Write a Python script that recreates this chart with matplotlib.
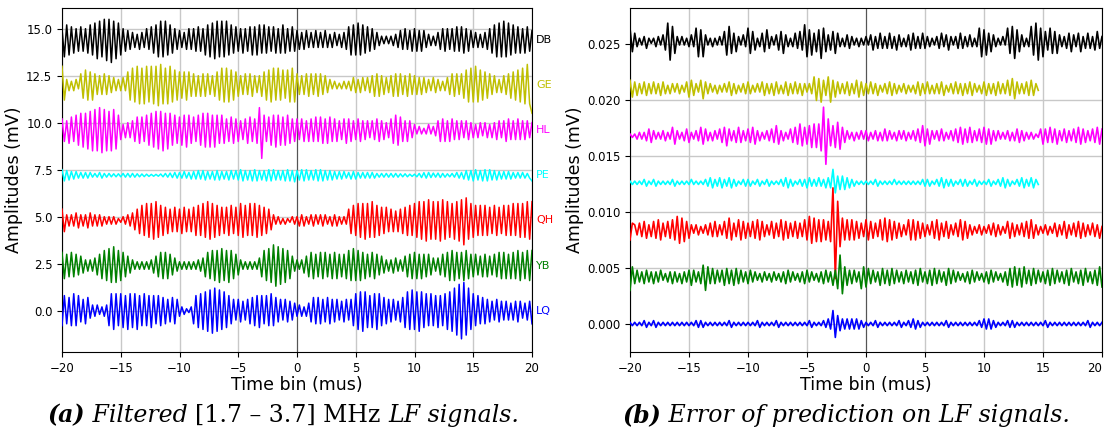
import numpy as np
import matplotlib
matplotlib.use("Agg")
import matplotlib.pyplot as plt

# ---------------- data ----------------
# sample spacing (mus); every series starts at -20 mus
T0 = -20.0
DT = 0.2

# Panel (a): deviations from baseline, in tenths of mV
left_names = ["DB", "GE", "HL", "PE", "QH", "YB", "LQ"]
left_offsets = [14.4, 12.0, 9.6, 7.2, 4.8, 2.4, 0.0]
left_colors = ["black", "#bfbf00", "magenta", "cyan", "red", "green", "blue"]

db_a = [6,-9,8,-8,7,-7,6,-6,7,-6, 6,-7,8,-8,9,-10,10,-9,11,-11, 11,-12,10,-10,9,-8,6,-6,5,-5,
        4,-4,3,-5,4,-4,6,-5,7,-7, 8,-9,10,-9,10,-8,8,-7,6,-5, 5,-4,4,-5,6,-5,6,-6,7,-6,
        6,-8,8,-9,9,-10,10,-9,10,-9, 10,-8,8,-7,7,-6,6,-7,6,-6, 7,-8,7,-8,8,-7,8,-7,7,-6,
        7,-7,6,-7,8,-7,6,-6,7,-6, 5,-5,4,-5,5,-4,4,-4,5,-4, 4,-4,5,-4,3,-4,4,-3,3,-4,
        4,-5,7,-8,8,-8,9,-8,8,-7, 7,-6,6,-5,4,-3,2,-2,2,-2, 2,-3,3,-4,5,-5,6,-5,5,-6,
        6,-6,5,-6,5,-4,3,-3,2,-3, 4,-5,6,-6,6,-5,6,-6,7,-6, 7,-7,6,-6,5,-4,4,-4,3,-4,
        4,-5,6,-7,8,-9,9,-9,10,-9, 9,-8,8,-7,7,-7,6,-7,7,-6, 5]
ge_a = [10,-8,3,-3,2,-3,3,-2,6,-7, 8,-8,7,-8,6,-5,5,-5,6,-5, 5,-4,4,-3,3,-3,4,-3,7,-8,
        9,-9,10,-10,9,-10,10,-9,10,-10, 10,-11,11,-10,9,-10,10,-9,8,-8, 7,-7,7,-8,7,-6,6,-6,5,-6,
        6,-6,6,-5,5,-6,7,-8,9,-9, 9,-9,8,-8,7,-6,5,-5,6,-5, 6,-6,5,-4,5,-6,7,-8,8,-9,
        9,-8,9,-8,8,-7,8,-9,9,-9, 6,-5,5,-5,6,-6,6,-5,6,-6, 6,-5,5,-4,3,-2,2,-2,1,-2,
        2,-2,2,-3,4,-4,3,-4,4,-3, 4,-4,5,-6,6,-6,5,-5,4,-4, 5,-6,6,-6,6,-5,5,-6,6,-5,
        5,-5,4,-5,4,-4,3,-3,4,-4, 3,-3,2,-3,4,-5,6,-6,6,-5, 6,-7,8,-9,9,-9,10,-9,8,-8,
        7,-7,6,-5,5,-4,3,-4,5,-5, 6,-7,7,-8,8,-9,9,-10,11,-10, -15]
hl_a = [6,-6,5,-7,7,-6,8,-8,9,-9, 9,-10,10,-11,11,-11,12,-12,11,-11, 10,-11,11,-10,8,-5,3,-4,4,-4,
        5,-6,7,-7,7,-6,8,-8,9,-9, 10,-10,10,-11,9,-10,9,-8,8,-7, 7,-8,8,-9,8,-7,7,-6,8,-8,
        9,-9,9,-9,8,-9,8,-7,8,-7, 6,-6,7,-7,6,-6,5,-5,6,-7, 7,-6,6,-7,12,-15,8,-6,7,-8,
        8,-9,8,-8,7,-8,8,-7,6,-6, 6,-5,6,-6,5,-6,6,-6,7,-6, 7,-7,6,-7,7,-6,6,-6,5,-5,
        6,-7,6,-6,5,-5,6,-6,5,-5, 5,-4,5,-5,6,-6,5,-5,4,-4, 6,-7,8,-8,7,-6,5,-6,5,-4,
        3,-2,2,-2,1,-2,3,-2,2,-3, 5,-6,6,-6,5,-6,6,-5,5,-5, 5,-4,5,-5,4,-4,3,-4,4,-3,
        4,-4,3,-4,4,-5,5,-4,5,-6, 6,-5,5,-5,6,-5,5,-5,5,-4, 4]
pe_a = [3,-3,2.5,-2.5,2,-2,2,-1.5,1.5,-1.5, 1.5,-1.5,1.5,-1,1,-1,1.5,-1.5,1,-1,
        1,-0.8,0.8,-0.8,0.8,-0.8,1,-1,1,-1, 1,-1,0.8,-0.8,0.7,-0.7,0.6,-0.6,0.5,-0.5,
        0.5,-0.5,0.7,-0.8,1,-1,1.2,-1.2,1.5,-1.5, 1.5,-1.5,2,-1.5,1.5,-2,2,-2,2.5,-2,
        2.5,-2.5,2,-2,2,-2.5,2.5,-2.5,2,-2, 2,-2.5,2.5,-2,2.5,-2.5,3,-3,2.5,-2.5,
        2.5,-3,3,-3,2.5,-2.5,2.5,-3,3,-3, 3,-2.5,2.5,-2.5,2.5,-3,3,-3,2.5,-3.5,
        2.5,-2.5,3,-3,3,-2.5,2.5,-2.5,3,-3, 3,-3,2.5,-2.5,2.5,-2.5,2,-2,2,-2,
        2,-1.5,1.5,-2,2,-2,1.5,-1.5,1.5,-1.5, 1.5,-1.5,1.5,-1.5,1,-1,1,-1,1,-1,
        1,-1,1,-1,0.8,-0.8,0.8,-0.8,0.6,-0.6, 0.6,-0.8,1,-1.2,1.4,-1.5,1.5,-1.2,1.2,-1,
        1.2,-1.2,1,-1,0.8,-0.8,1,-1,1.5,-1.5, 1.5,-2,2.5,-2.5,2.5,-3,3,-2.5,2.5,-3,
        3,-3,3,-2.5,2.5,-2.5,2,-2,2,-2, 2,-2,1.5,-1.5,1.5,-1.5,1.5,-1.5,1,-1.5, -3]
qh_a = [6,-6,3,-3,3,-3,4,-4,3,-3, 3,-4,4,-3,3,-3,3,-3,2,-2, 2,-2,2,-2,1,-1,2,-2,3,-3,
        4,-5,6,-7,8,-8,9,-9,9,-10, 10,-9,8,-8,7,-7,6,-6,7,-6, 6,-7,7,-6,6,-6,7,-8,8,-8,
        9,-9,10,-10,9,-9,8,-8,7,-7, 7,-8,8,-7,7,-8,9,-9,8,-8, 9,-8,9,-9,8,-8,7,-7,6,-5,
        3,-2,2,-2,1,-2,1,-1,2,-2, 2,-3,3,-3,2,-2,3,-3,3,-2, 3,-3,3,-2,2,-3,3,-3,2,-2,
        2,-2,6,-7,8,-8,9,-9,9,-10, 9,-9,10,-9,8,-8,7,-7,7,-6, 6,-6,5,-6,6,-7,7,-8,8,-8,
        9,-9,10,-10,10,-11,11,-10,10,-10, 10,-11,11,-10,10,-9,9,-10,10,-11, 11,-13,12,-10,9,-9,8,-8,8,-8,
        8,-8,7,-7,8,-8,7,-7,8,-8, 8,-8,9,-8,9,-9,9,-9,10,-10, 10]
yb_a = [7,-7,6,-6,7,-6,6,-5,5,-4, 3,-3,3,-3,4,-5,6,-7,8,-8, 9,-9,10,-9,8,-8,7,-6,5,-4,
        3,-2,2,-2,2,-2,2,-2,3,-4, 5,-6,7,-7,7,-7,6,-5,4,-3, 2,-2,2,-2,2,-2,2,-2,3,-3,
        4,-6,7,-7,8,-8,8,-9,9,-8, 8,-9,8,-7,6,-5,3,-2,2,-2, 2,-2,2,-2,4,-6,8,-8,9,-9,
        11,-11,10,-10,9,-9,8,-7,5,-3, 3,-2,3,-4,5,-6,7,-7,6,-6, 7,-7,7,-6,6,-7,7,-7,6,-6,
        6,-7,8,-8,9,-8,8,-8,7,-7, 6,-6,7,-7,6,-5,5,-4,3,-3, 3,-4,4,-3,3,-3,5,-6,6,-7,
        7,-7,6,-7,6,-6,6,-5,4,-3, 4,-5,6,-6,7,-8,8,-8,7,-7, 7,-8,8,-7,6,-6,6,-5,5,-6,
        6,-6,5,-5,6,-6,7,-7,7,-7, 6,-7,7,-7,8,-8,7,-7,8,-8, 8]
lq_a = [-8,8,-7,7,-8,9,-8,8,-6,6, -7,7,-4,3,-3,3,-2,2,-3,3, -8,9,-10,9,-8,9,-9,8,-10,9,
        -9,9,-10,8,-8,9,-8,8,-9,8, -7,8,-8,7,-7,6,-6,7,-7,6, -3,2,-2,1,-1,2,-7,8,-9,9,
        -10,10,-11,11,-12,12,-11,11,-10,10, -9,8,-7,6,-5,6,-6,5,-5,6, -7,7,-8,8,-9,8,-7,8,-8,9,
        -8,7,-6,6,-5,6,-6,5,-5,4, -3,3,-3,2,-3,4,-6,7,-7,7, -7,6,-6,7,-7,6,-6,6,-5,5,
        -6,6,-5,6,-8,9,-10,10,-11,10, -9,8,-9,9,-10,9,-8,7,-7,6, -6,6,-5,5,-6,7,-9,10,-10,11,
        -10,10,-11,10,-9,9,-8,9,-8,8, -9,8,-8,9,-10,10,-11,12,-13,14, -15,15,-13,12,-10,9,-8,8,-7,7,
        -7,6,-6,5,-5,6,-6,5,-5,5, -5,4,-5,5,-6,5,-4,4,-5,5, -7]
left_series = [db_a, ge_a, hl_a, pe_a, qh_a, yb_a, lq_a]

# Panel (b): deviations from baseline, in units of 1.5e-4 mV
RIGHT_UNIT = 1.5e-4
right_offsets = [0.0252, 0.0210, 0.0168, 0.0126, 0.0084, 0.0042, 0.0]

db_b = [8,-6,5,-3,2,-2,3,-4,2,-1, 2,-3,3,-2,4,-5,11,-11,9,-7, 3,-2,3,-2,2,-3,4,-3,8,-9,
        7,-9,4,-2,2,-3,2,-2,3,-2, 6,-8,9,-7,5,-6,3,-2,4,-3, 8,-7,6,-5,2,-3,5,-6,7,-4,
        3,-2,4,-5,6,-7,4,-3,2,-3, 5,-4,6,-5,10,-9,7,-8,5,-6, 7,-10,8,-6,4,-5,6,-7,5,-3,
        2,-3,4,-4,3,-2,2,-3,2,-2, 3,-2,4,-5,3,-4,5,-4,3,-4, 5,-4,3,-5,4,-3,2,-3,4,-5,
        5,-4,3,-4,5,-4,3,-3,2,-2, 3,-4,5,-3,4,-5,3,-2,3,-4, 5,-4,3,-3,4,-3,2,-3,8,-9,
        7,-8,5,-6,4,-3,2,-2,3,-2, 8,-7,9,-10,7,-6,4,-3,2,-3, 9,-8,11,-11,8,-9,6,-5,8,-7,
        6,-7,4,-3,3,-4,5,-6,4,-3, 5,-6,3,-4,5,-4,3,-5,6,-4, 3]
ge_b = [5,-5,4,-4,3,-3,4,-4,3,-3, 4,-3,3,-4,4,-3,2,-3,3,-2, 3,-3,2,-2,4,-5,5,-4,3,-2,
        5,-6,4,-3,3,-2,2,-3,2,-2, 3,-2,4,-4,3,-3,2,-2,3,-3, 4,-3,2,-2,3,-2,4,-4,3,-3,
        3,-4,4,-3,2,-3,4,-4,3,-3, 4,-3,3,-4,3,-2,3,-3,7,-7, 6,-8,5,-4,7,-8,5,-5,4,-3,
        3,-3,4,-4,3,-3,5,-5,4,-4, 3,-3,4,-3,3,-4,2,-2,3,-3, 4,-4,3,-3,2,-2,3,-3,2,-2,
        2,-3,4,-4,3,-3,4,-3,2,-3, 3,-3,4,-4,2,-2,3,-3,4,-3, 3,-4,3,-3,4,-4,3,-2,2,-3,
        4,-4,3,-3,3,-4,4,-3,3,-3, 5,-4,6,-6,4,-3,3,-3,4,-4, 5,-4,3,-1]
hl_b = [1,-1,1,-2,2,-2,2,-3,4,-4, 3,-2,2,-2,3,-3,2,-2,5,-5, 3,-2,2,-3,4,-4,2,-2,3,-3,
        5,-5,4,-3,2,-3,3,-2,4,-4, 5,-6,4,-3,3,-4,5,-4,3,-3, 4,-4,5,-5,3,-3,2,-2,3,-3,
        4,-4,6,-5,3,-3,2,-2,4,-4, 5,-5,7,-6,5,-5,6,-7,7,-7, 7,-9,17,-17,10,-6,6,-7,8,-8,
        5,-4,3,-2,2,-3,2,-2,3,-2, 3,-3,2,-2,3,-3,2,-3,4,-3, 3,-2,2,-3,3,-2,3,-3,2,-2,
        3,-3,4,-4,6,-6,4,-5,3,-2, 3,-3,4,-3,2,-2,3,-3,4,-4, 5,-5,4,-4,5,-4,3,-3,4,-4,
        5,-5,4,-5,3,-3,3,-2,2,-2, 3,-3,2,-3,4,-4,3,-3,2,-2, 2,-2,1,-1,4,-5,4,-4,5,-4,
        4,-5,3,-3,4,-4,3,-3,4,-4, 5,-5,4,-4,3,-3,4,-4,5,-5, 4]
pe_b = [1,-1,1,-1,1,-1,2,-2,1,-1, 2,-2,1,-1,1,-1,1,-1,2,-2, 1,-1,1,-1,1,-1,2,-1,1,-1,
        1,-1,2,-2,3,-3,2,-2,3,-3, 2,-2,3,-3,2,-2,1,-1,2,-2, 2,-2,1,-1,2,-2,1,-1,2,-2,
        1,-1,1,-1,2,-2,3,-3,2,-2, 1,-1,2,-2,2,-3,3,-2,2,-2, 3,-2,2,-3,3,-3,8,-6,4,-4,
        4,-4,3,-3,2,-2,1,-1,1,-1, 1,-1,1,-1,2,-2,1,-1,1,-1, 1,-1,2,-1,1,-1,1,-1,1,-1,
        1,-1,1,-1,2,-2,2,-2,1,-1, 2,-2,3,-3,2,-2,2,-2,1,-1, 2,-2,2,-2,1,-1,2,-2,1,-1,
        1,-1,2,-2,1,-1,2,-2,3,-3, 2,-2,1,-1,2,-2,3,-3,2,-2, 3,-3,2,-1]
qh_b = [-6,4,3,-3,4,-4,5,-5,3,-4, 5,-5,6,-6,4,-4,5,-5,6,-6, 8,-8,7,-7,5,-5,3,-2,3,-3,
        2,-2,3,-3,4,-4,5,-4,3,-3, 5,-5,7,-6,4,-4,6,-6,5,-5, 4,-4,5,-5,6,-6,5,-4,3,-3,
        5,-5,4,-4,6,-6,5,-5,4,-4, 5,-5,4,-4,6,-6,8,-8,7,-7, 6,-7,6,-6,5,-7,25,-29,17,-10,
        7,-6,6,-6,6,-6,5,-5,4,-4, 6,-6,5,-5,4,-4,6,-6,7,-7, 6,-6,5,-5,4,-4,3,-3,6,-6,
        6,-6,5,-5,4,-4,3,-3,5,-5, 6,-6,4,-4,5,-5,3,-3,4,-4, 6,-6,5,-5,3,-3,2,-2,3,-3,
        2,-2,3,-3,4,-4,3,-3,2,-2, 5,-5,4,-4,3,-3,4,-4,5,-5, 6,-5,3,-3,2,-2,3,-3,2,-2,
        4,-4,3,-3,5,-5,3,-3,4,-4, 5,-5,4,-4,3,-3,4,-4,3,-5, 2]
yb_b = [-8,6,-4,4,-3,3,-4,4,-3,3, -4,3,-3,4,-2,2,-3,3,-4,3, -3,2,-4,3,-3,4,-5,4,-3,3,
        -4,7,-8,6,-4,5,-4,4,-3,4, -5,5,-4,4,-5,5,-4,4,-3,3, -4,4,-3,3,-2,2,-3,3,-2,2,
        -3,3,-2,2,-3,3,-4,4,-3,3, -2,2,-3,3,-4,4,-3,3,-2,2, -3,3,-4,4,-3,3,-5,4,-7,13,
        -10,6,-5,4,-4,4,-3,3,-7,6, -6,5,-4,4,-3,3,-5,5,-4,4, -5,5,-4,4,-3,3,-4,4,-3,3,
        -4,4,-5,5,-3,3,-4,4,-5,5, -4,4,-3,3,-5,5,-4,4,-3,3, -2,2,-3,3,-4,4,-3,3,-2,2,
        -3,3,-4,4,-3,3,-2,2,-3,3, -5,5,-6,6,-5,5,-6,6,-4,4, -5,5,-4,4,-3,3,-4,4,-5,5,
        -4,4,-3,3,-4,4,-5,5,-3,3, -4,4,-5,5,-3,3,-4,4,-5,6, -6]
lq_b = [1,-1,1,-1,1,-1,2,-2,1,-1, 2,-2,1,-1,1,-1,1,-1,1,-1, 1,-1,1,-1,1,-1,1,-1,2,-2,
        2,-2,1,-1,1,-1,1,-1,1,-1, 1,-1,2,-2,1,-1,1,-1,1,-1, 1,-1,1,-1,2,-2,1,-1,1,-1,
        1,-1,2,-2,1,-1,1,-1,1,-1, 1,-1,1,-1,1,-1,2,-2,1,-1, 1,-1,2,-2,3,-3,8,-8,5,-4,
        3,-3,3,-3,3,-3,3,-3,2,-2, 1,-1,1,-1,2,-2,1,-1,1,-1, 1,-1,1,-1,2,-2,1,-1,2,-2,
        3,-3,2,-2,1,-1,1,-1,1,-1, 1,-1,1,-1,2,-2,1,-1,1,-1, 1,-1,1,-1,1,-1,1,-1,2,-2,
        3,-3,3,-3,2,-2,1,-1,1,-1, 2,-2,2,-2,1,-1,1,-1,1,-1, 1,-1,1,-1,1,-1,2,-2,1,-1,
        1,-1,1,-1,1,-1,1,-1,1,-1, 1,-1,1,-1,2,-2,1,-1,1,-1, 1]
right_series = [db_b, ge_b, hl_b, pe_b, qh_b, yb_b, lq_b]

xticks = [-20, -15, -10, -5, 0, 5, 10, 15, 20]
left_yticks = [0.0, 2.5, 5.0, 7.5, 10.0, 12.5, 15.0]
right_yticks = [0.000, 0.005, 0.010, 0.015, 0.020, 0.025]

# ---------------- figure ----------------
W, H = 1106, 437
fig = plt.figure(figsize=(W / 100, H / 100), dpi=100)
ax1 = fig.add_axes([62 / W, 1 - 352 / H, 470 / W, 344 / H])
ax2 = fig.add_axes([630 / W, 1 - 352 / H, 472 / W, 344 / H])


def style(ax, yticks, yfmt):
    ax.set_xlim(-20, 20)
    ax.set_xticks(xticks)
    ax.set_yticks(yticks)
    ax.set_yticklabels([yfmt.format(v) for v in yticks])
    ax.grid(True, color="#c8c8c8", lw=1.0)
    ax.set_axisbelow(True)
    ax.axvline(0, color="#555555", lw=0.8, zorder=1)
    ax.tick_params(labelsize=8.5, length=3.5)
    ax.set_xlabel("Time bin (mus)", fontsize=12.5, labelpad=1)
    ax.set_ylabel("Amplitudes (mV)", fontsize=12.5, labelpad=2)


for vals, off, col, name in zip(left_series, left_offsets, left_colors, left_names):
    v = np.asarray(vals, dtype=float)
    x = T0 + DT * np.arange(len(v))
    ax1.plot(x, off + v / 10.0, color=col, lw=1.1, zorder=3)
    ax1.text(20.35, off, name, color=col, fontsize=8, va="center", ha="left",
             clip_on=False)
ax1.set_ylim(-2.2, 16.1)
style(ax1, left_yticks, "{:.1f}")

for vals, off, col in zip(right_series, right_offsets, left_colors):
    v = np.asarray(vals, dtype=float)
    x = T0 + DT * np.arange(len(v))
    ax2.plot(x, off + v * RIGHT_UNIT, color=col, lw=1.2, zorder=3)
ax2.set_ylim(-0.0025, 0.0282)
style(ax2, right_yticks, "{:.3f}")
# keep the right-most tick label inside the figure
ax2.get_xticklabels()[-1].set_horizontalalignment("right")


def caption(xc, parts):
    # parts: list of (text, fontstyle, fontweight)
    fam = "DejaVu Serif"
    texts = []
    for s, st, wt in parts:
        t = fig.text(0, 0.05, s, fontsize=17, family=fam, style=st,
                     weight=wt, va="center", ha="left")
        texts.append(t)
    fig.canvas.draw()
    r = fig.canvas.get_renderer()
    widths = [t.get_window_extent(r).width for t in texts]
    total = sum(widths)
    x = xc * W - total / 2
    for t, w in zip(texts, widths):
        t.set_position((x / W, 0.05))
        x += w


caption(283 / W, [("(a)", "italic", "bold"), (" Filtered ", "italic", "normal"),
                  ("[1.7 \u2013 3.7] MHz ", "normal", "normal"),
                  ("LF signals.", "italic", "normal")])
caption(846 / W, [("(b)", "italic", "bold"),
                  (" Error of prediction on LF signals.", "italic", "normal")])

fig.savefig("out.png", dpi=100)
